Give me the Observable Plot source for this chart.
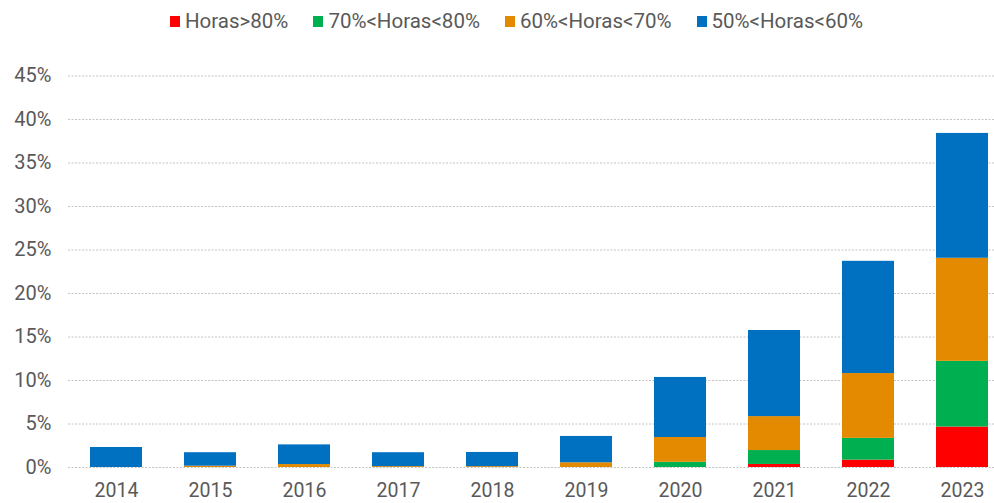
<!DOCTYPE html>
<html>
<head>
<meta charset="utf-8">
<script src="https://cdn.jsdelivr.net/npm/d3@7"></script>
<script src="https://cdn.jsdelivr.net/npm/@observablehq/plot@0.6"></script>
<style>
  html, body { margin: 0; padding: 0; background: #fff; }
  body { width: 994px; height: 503px; overflow: hidden; font-family: Roboto, sans-serif; }
  #legend { height: 42px; display: flex; align-items: center; gap: 25px; padding-left: 170px; box-sizing: border-box; color: #595959; font-size: 20.5px; }
  #legend .item { display: flex; align-items: center; gap: 5px; }
  #legend .sw { width: 10px; height: 11px; display: inline-block; }
</style>
</head>
<body>
<div id="legend"></div>
<div id="chart"></div>
<script>
const years = ["2014","2015","2016","2017","2018","2019","2020","2021","2022","2023"];
const seriesNames = ["Horas>80%", "70%<Horas<80%", "60%<Horas<70%", "50%<Horas<60%"];
const seriesColors = ["#FF0000", "#00B050", "#E48A00", "#0070C0"];
const red    = [0, 0, 0, 0, 0, 0, 0, 0.35, 0.85, 4.65];
const green  = [0, 0, 0, 0, 0, 0, 0.6, 1.6, 2.5, 7.55];
const orange = [0, 0.15, 0.34, 0.1, 0.1, 0.54, 2.85, 3.9, 7.45, 11.85];
const blue   = [2.3, 1.55, 2.26, 1.6, 1.63, 3.03, 6.9, 9.9, 12.9, 14.35];
const yTicks = [0, 5, 10, 15, 20, 25, 30, 35, 40, 45];

const seriesValues = [red, green, orange, blue];
const data = [];
seriesNames.forEach((s, i) => {
  years.forEach((y, j) => data.push({year: y, series: s, value: seriesValues[i][j]}));
});

const legend = document.getElementById("legend");
seriesNames.forEach((s, i) => {
  const it = document.createElement("div");
  it.className = "item";
  const sw = document.createElement("span");
  sw.className = "sw";
  sw.style.background = seriesColors[i];
  const t = document.createElement("span");
  t.textContent = s;
  it.appendChild(sw); it.appendChild(t);
  legend.appendChild(it);
});

const chart = Plot.plot({
  width: 994,
  height: 461,
  marginTop: 33.5,
  marginBottom: 36,
  marginLeft: 68,
  marginRight: 0,
  style: { fontFamily: "Roboto, sans-serif", fontSize: "20px", color: "#595959", background: "#fff" },
  x: { domain: years, paddingInner: 0.447, paddingOuter: 0.149, align: 0.786, label: null },
  y: { domain: [0, 45], label: null },
  color: { domain: seriesNames, range: seriesColors },
  marks: [
    Plot.ruleY(yTicks, { stroke: "#c4c4c4", strokeDasharray: "2,1.5", strokeWidth: 1 }),
    Plot.barY(data, Plot.stackY({ order: null }, { x: "year", y: "value", fill: "series" })),
    Plot.axisY({ ticks: yTicks, tickFormat: d => d + "%", tickSize: 0, tickPadding: 17, label: null, fill: "#595959" }),
    Plot.axisX({ tickSize: 0, tickPadding: 16, fontSize: 19.5, label: null, fill: "#595959" })
  ]
});
document.getElementById("chart").appendChild(chart);
</script>
</body>
</html>
